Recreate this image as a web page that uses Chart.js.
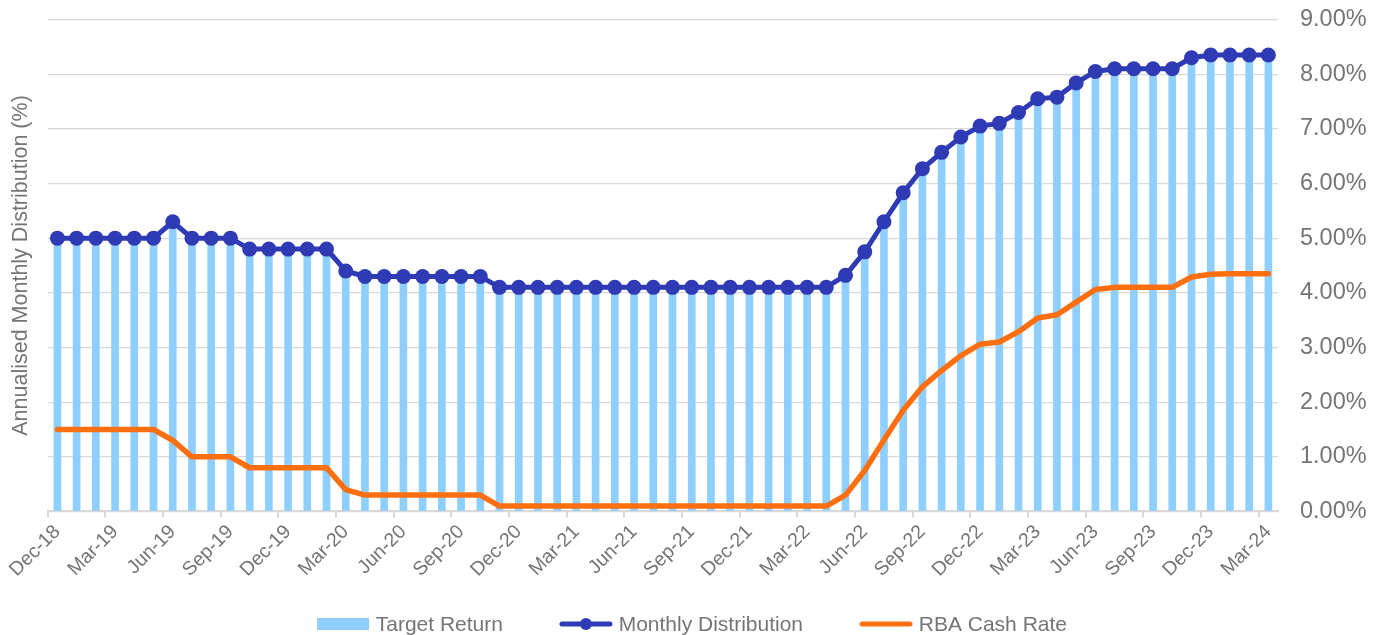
<!DOCTYPE html>
<html>
<head>
<meta charset="utf-8">
<title>Monthly Distribution vs RBA Cash Rate</title>
<script src="https://cdn.jsdelivr.net/npm/chart.js@4.4.1/dist/chart.umd.min.js"></script>
<style>
  html,body{margin:0;padding:0;background:#fff;}
  #wrap{width:1384px;height:635px;position:relative;}
</style>
</head>
<body>
<div id="wrap"><canvas id="chart"></canvas></div>
<script>
// months, Dec-18 .. Mar-24
const months = ['Dec-18',
  'Jan-19','Feb-19','Mar-19','Apr-19','May-19','Jun-19','Jul-19','Aug-19','Sep-19','Oct-19','Nov-19','Dec-19',
  'Jan-20','Feb-20','Mar-20','Apr-20','May-20','Jun-20','Jul-20','Aug-20','Sep-20','Oct-20','Nov-20','Dec-20',
  'Jan-21','Feb-21','Mar-21','Apr-21','May-21','Jun-21','Jul-21','Aug-21','Sep-21','Oct-21','Nov-21','Dec-21',
  'Jan-22','Feb-22','Mar-22','Apr-22','May-22','Jun-22','Jul-22','Aug-22','Sep-22','Oct-22','Nov-22','Dec-22',
  'Jan-23','Feb-23','Mar-23','Apr-23','May-23','Jun-23','Jul-23','Aug-23','Sep-23','Oct-23','Nov-23','Dec-23',
  'Jan-24','Feb-24','Mar-24'];

const targetReturn = [5.0,
  5.0,5.0,5.0,5.0,5.0,5.3,5.0,5.0,5.0,4.8,4.8,4.8,
  4.8,4.8,4.4,4.3,4.3,4.3,4.3,4.3,4.3,4.3,4.1,4.1,
  4.1,4.1,4.1,4.1,4.1,4.1,4.1,4.1,4.1,4.1,4.1,4.1,
  4.1,4.1,4.1,4.1,4.32,4.75,5.3,5.83,6.27,6.57,6.85,7.05,
  7.1,7.3,7.55,7.58,7.84,8.05,8.1,8.1,8.1,8.1,8.3,8.35,
  8.35,8.35,8.35];

const monthlyDist = [5.0,
  5.0,5.0,5.0,5.0,5.0,5.3,5.0,5.0,5.0,4.8,4.8,4.8,
  4.8,4.8,4.4,4.3,4.3,4.3,4.3,4.3,4.3,4.3,4.1,4.1,
  4.1,4.1,4.1,4.1,4.1,4.1,4.1,4.1,4.1,4.1,4.1,4.1,
  4.1,4.1,4.1,4.1,4.32,4.75,5.3,5.83,6.27,6.57,6.85,7.05,
  7.1,7.3,7.55,7.58,7.84,8.05,8.1,8.1,8.1,8.1,8.3,8.35,
  8.35,8.35,8.35];

const rbaCash = [1.5,
  1.5,1.5,1.5,1.5,1.5,1.3,1.0,1.0,1.0,0.8,0.8,0.8,
  0.8,0.8,0.4,0.3,0.3,0.3,0.3,0.3,0.3,0.3,0.1,0.1,
  0.1,0.1,0.1,0.1,0.1,0.1,0.1,0.1,0.1,0.1,0.1,0.1,
  0.1,0.1,0.1,0.1,0.3,0.75,1.31,1.85,2.28,2.58,2.85,3.06,
  3.1,3.29,3.54,3.6,3.83,4.06,4.1,4.1,4.1,4.1,4.29,4.34,
  4.35,4.35,4.35];

const yTicks = [0,1,2,3,4,5,6,7,8,9];

const BAR='#8ECFFF', BLUE='#2E3BB5', ORANGE='#FF6F0F', TXT='#757575', GRID='#D9D9D9';
const FONT='"Liberation Sans", Arial, sans-serif';
Chart.defaults.font.family = FONT;
Chart.defaults.color = TXT;

// legend drawn under the axis: box / line-with-marker icons, then text
const bottomLegend = {
  id:'bottomLegend',
  afterDraw(chart){
    const ctx=chart.ctx, y=624, gap=57, iconW=52, txtOff=58.7;
    ctx.save();
    ctx.font='21px '+FONT;
    const items=[
      {text:'Target Return', kind:'bar', color:BAR},
      {text:'Monthly Distribution', kind:'dot', color:BLUE},
      {text:'RBA Cash Rate', kind:'line', color:ORANGE}
    ];
    let total=0;
    items.forEach((it,i)=>{it.w=ctx.measureText(it.text).width; total+=txtOff+it.w+(i?gap:0);});
    let x=(chart.width-total)/2;
    items.forEach((it,i)=>{
      if(i) x+=gap;
      if(it.kind==='bar'){ctx.fillStyle=it.color;ctx.fillRect(x,y-6,iconW,12);}
      else{
        ctx.strokeStyle=it.color;ctx.lineWidth=5;ctx.lineCap='round';
        ctx.beginPath();ctx.moveTo(x+2,y);ctx.lineTo(x+iconW-2,y);ctx.stroke();
        if(it.kind==='dot'){ctx.fillStyle=it.color;ctx.beginPath();ctx.arc(x+iconW/2,y,6,0,Math.PI*2);ctx.fill();}
      }
      ctx.fillStyle=TXT;ctx.textBaseline='middle';ctx.textAlign='left';
      ctx.fillText(it.text,x+txtOff,y+1);
      x+=txtOff+it.w;
    });
    ctx.restore();
  }
};

new Chart(document.getElementById('chart'),{
  data:{
    labels:months,
    datasets:[
      {type:'line',label:'Monthly Distribution',data:monthlyDist,order:0,yAxisID:'y',
       borderColor:BLUE,backgroundColor:BLUE,borderWidth:5,tension:0,
       pointRadius:7.5,pointBackgroundColor:BLUE,pointBorderWidth:0,pointHoverRadius:7.5},
      {type:'line',label:'RBA Cash Rate',data:rbaCash,order:1,yAxisID:'y',
       borderColor:ORANGE,borderWidth:5.5,tension:0,pointRadius:0,borderJoinStyle:'round',borderCapStyle:'round'},
      {type:'bar',label:'Target Return',data:targetReturn,order:2,yAxisID:'y',
       backgroundColor:BAR,barPercentage:0.4,categoryPercentage:1}
    ]
  },
  options:{
    responsive:true,maintainAspectRatio:false,animation:false,
    layout:{padding:{left:8,right:17,top:0,bottom:50.5}},
    plugins:{legend:{display:false},tooltip:{enabled:false}},
    scales:{
      x:{type:'category',offset:true,
        grid:{display:true,drawOnChartArea:false,drawTicks:true,tickLength:6,offset:true,lineWidth:2,
          tickColor:c=>c.index%3===0?GRID:'rgba(0,0,0,0)'},
        border:{display:true,color:GRID,width:2},
        ticks:{autoSkip:false,minRotation:45,maxRotation:45,padding:3,color:TXT,font:{size:19.5},
          callback:(v,i)=>i%3===0?months[i]:''}},
      y:{position:'right',min:0,max:9,
        afterBuildTicks:s=>{s.ticks=yTicks.map(v=>({value:v}));},
        afterFit:s=>{s.width=89;s.paddingTop=19.5;s.paddingBottom=0;},
        grid:{color:GRID,lineWidth:1.3,drawTicks:false},
        border:{display:false},
        ticks:{padding:22,color:TXT,font:{size:23.5},callback:v=>v.toFixed(2)+'%'}},
      yL:{position:'left',min:0,max:9,
        afterFit:s=>{s.paddingTop=0;s.paddingBottom=0;},
        grid:{drawOnChartArea:false,drawTicks:false},border:{display:false},
        ticks:{display:false},
        title:{display:true,text:'Annualised Monthly Distribution (%)',color:TXT,font:{size:21.5},padding:{top:0,bottom:14}}}
    }
  },
  plugins:[bottomLegend]
});
</script>
</body>
</html>
